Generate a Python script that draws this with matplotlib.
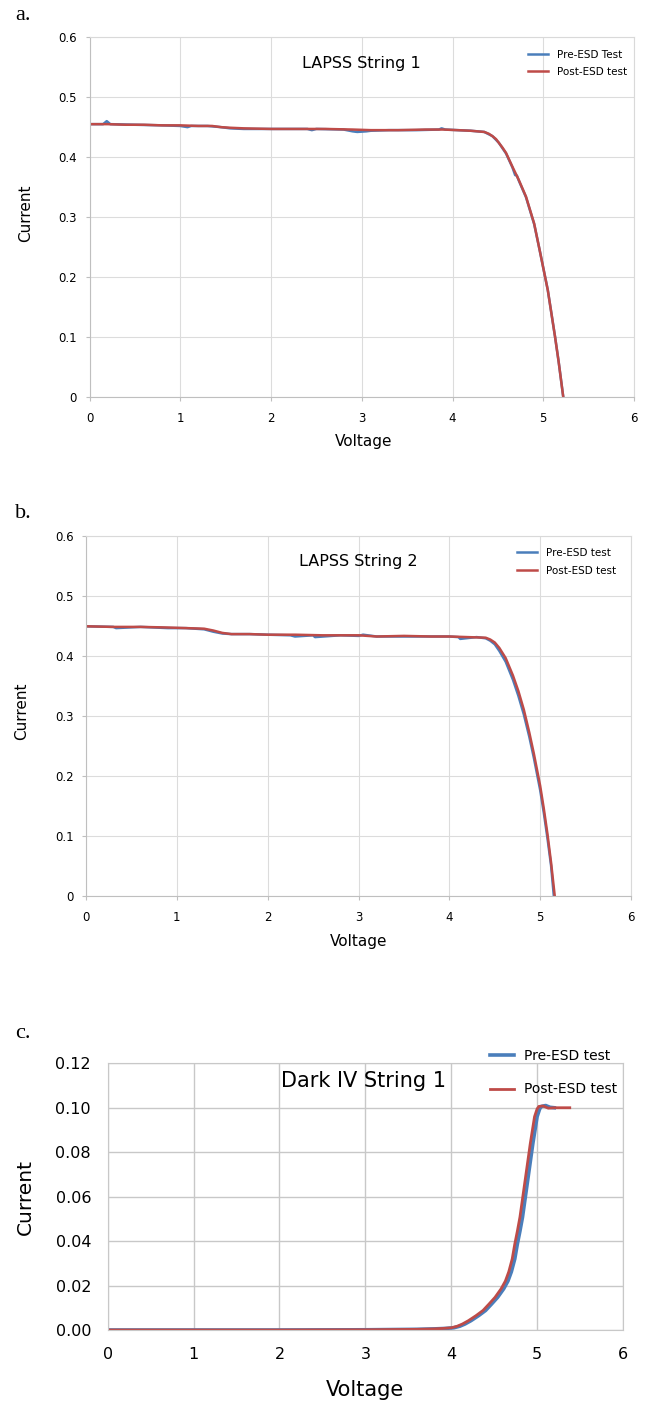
import matplotlib
matplotlib.use("Agg")
import matplotlib.pyplot as plt

plt.rcParams['font.family'] = ['DejaVu Sans']

# --- panel a: LAPSS String 1 ---
a_pre_v = [0, 0.15, 0.19, 0.23, 0.5, 0.8, 1.0, 1.08, 1.12, 1.3, 1.45, 1.55, 1.7, 2.0, 2.4, 2.45,
           2.5, 2.8, 2.9, 2.95, 3.05, 3.1, 3.3, 3.6, 3.85, 3.88, 3.92, 4.2, 4.35, 4.44, 4.51,
           4.59, 4.66, 4.69, 4.71, 4.73, 4.81, 4.9, 4.96, 5.05, 5.13, 5.17, 5.22]
a_pre_i = [0.455, 0.455, 0.460, 0.455, 0.454, 0.453, 0.452, 0.450, 0.452, 0.452, 0.450, 0.448,
           0.447, 0.447, 0.447, 0.445, 0.447, 0.446, 0.443, 0.442, 0.443, 0.444, 0.445, 0.445,
           0.446, 0.448, 0.446, 0.444, 0.442, 0.435, 0.424, 0.406, 0.383, 0.370, 0.369, 0.361,
           0.333, 0.288, 0.245, 0.178, 0.100, 0.058, 0.0]
a_post_v = [0, 0.2, 0.4, 0.6, 0.8, 1.0, 1.2, 1.35, 1.45, 1.55, 1.7, 2.0, 2.3, 2.6, 2.9, 3.1, 3.4,
            3.7, 3.9, 4.2, 4.35, 4.4, 4.44, 4.48, 4.51, 4.55, 4.59, 4.66, 4.73, 4.81, 4.9, 4.96,
            5.05, 5.13, 5.17, 5.22]
a_post_i = [0.455, 0.455, 0.454, 0.454, 0.453, 0.453, 0.452, 0.452, 0.450, 0.449, 0.448, 0.447,
            0.447, 0.447, 0.446, 0.445, 0.445, 0.446, 0.446, 0.444, 0.442, 0.439, 0.435, 0.430,
            0.424, 0.416, 0.407, 0.384, 0.362, 0.334, 0.289, 0.245, 0.178, 0.100, 0.058, 0.0]

# --- panel b: LAPSS String 2 ---
b_pre_v = [0, 0.3, 0.33, 0.6, 0.9, 1.1, 1.3, 1.4, 1.5, 1.6, 1.8, 2.0, 2.25, 2.3, 2.5, 2.52, 2.8,
           3.0, 3.05, 3.2, 3.5, 3.8, 4.0, 4.1, 4.12, 4.3, 4.4, 4.45, 4.5, 4.55, 4.62, 4.7, 4.76,
           4.82, 4.88, 4.93, 5.0, 5.04, 5.08, 5.12, 5.15]
b_pre_i = [0.449, 0.448, 0.446, 0.448, 0.446, 0.446, 0.444, 0.440, 0.437, 0.436, 0.436, 0.435,
           0.434, 0.432, 0.434, 0.431, 0.434, 0.433, 0.435, 0.432, 0.432, 0.432, 0.432, 0.431,
           0.428, 0.431, 0.429, 0.425, 0.419, 0.408, 0.390, 0.360, 0.333, 0.302, 0.265, 0.230,
           0.176, 0.138, 0.096, 0.050, 0.0]
b_post_v = [0, 0.3, 0.6, 0.9, 1.1, 1.3, 1.4, 1.5, 1.6, 1.8, 2.0, 2.3, 2.6, 3.0, 3.2, 3.5, 3.8,
            4.0, 4.2, 4.4, 4.45, 4.5, 4.55, 4.62, 4.7, 4.76, 4.82, 4.88, 4.93, 5.0, 5.04, 5.08,
            5.12, 5.16]
b_post_i = [0.449, 0.448, 0.448, 0.447, 0.446, 0.445, 0.442, 0.438, 0.436, 0.436, 0.435, 0.435,
            0.434, 0.434, 0.432, 0.433, 0.432, 0.432, 0.431, 0.430, 0.427, 0.422, 0.413, 0.396,
            0.367, 0.341, 0.310, 0.272, 0.237, 0.183, 0.145, 0.103, 0.055, 0.0]

# --- panel c: Dark IV String 1 ---
c_pre_v = [0, 1, 2, 3, 3.3, 3.6, 3.8, 3.93, 4.03, 4.1, 4.16, 4.23, 4.32, 4.4, 4.47, 4.54, 4.61,
           4.66, 4.7, 4.74, 4.77, 4.8, 4.83, 4.89, 4.95, 5.0, 5.03, 5.05, 5.1, 5.15, 5.2]
c_pre_i = [0, 0, 0, 0.0001, 0.0002, 0.0003, 0.0005, 0.0007, 0.0010, 0.0017, 0.0027, 0.0042,
           0.0065, 0.0088, 0.0117, 0.0147, 0.0185, 0.0220, 0.0262, 0.0320, 0.0387, 0.0445,
           0.0508, 0.0673, 0.0838, 0.096, 0.0995, 0.1006, 0.101, 0.1002, 0.1]
c_post_v = [0, 1, 2, 3, 3.3, 3.6, 3.8, 3.9, 4.0, 4.07, 4.13, 4.2, 4.29, 4.37, 4.44, 4.51, 4.58,
            4.63, 4.67, 4.71, 4.74, 4.77, 4.8, 4.86, 4.92, 4.97, 5.0, 5.02, 5.07, 5.13, 5.2, 5.38]
c_post_i = [0, 0, 0, 0.0001, 0.0002, 0.0003, 0.0005, 0.0007, 0.0010, 0.0017, 0.0027, 0.0042,
            0.0065, 0.0088, 0.0117, 0.0147, 0.0185, 0.0220, 0.0262, 0.0320, 0.0387, 0.0445,
            0.0508, 0.0673, 0.0838, 0.096, 0.0995, 0.1006, 0.1008, 0.0998, 0.1, 0.1]

BLUE = '#4a7ebb'
RED = '#be4b48'
W, H = 649, 1404


def box(l, t, r, b):
    return [l / W, 1 - b / H, (r - l) / W, (b - t) / H]


fig = plt.figure(figsize=(6.49, 14.04), dpi=100)

panels = [
    dict(pos=box(89.5, 37.3, 634, 396.7), pre=(a_pre_v, a_pre_i), post=(a_post_v, a_post_i),
         labels=('Pre-ESD Test', 'Post-ESD test'), title='LAPSS String 1', letter='a.', ly=15,
         ylab=(-0.117, 0.511), xlab=(0.504, -0.126), leg=(523, 44.4), ls=0.7),
    dict(pos=box(86.1, 535.7, 631, 895.7), pre=(b_pre_v, b_pre_i), post=(b_post_v, b_post_i),
         labels=('Pre-ESD test', 'Post-ESD test'), title='LAPSS String 2', letter='b.', ly=513,
         ylab=(-0.118, 0.511), xlab=(0.5, -0.126), leg=(512, 542.4), ls=0.8),
]
ab_ticks = [0, 0.1, 0.2, 0.3, 0.4, 0.5, 0.6]

for p in panels:
    ax = fig.add_axes(p['pos'])
    ax.plot(*p['pre'], color=BLUE, lw=1.8, label=p['labels'][0])
    ax.plot(*p['post'], color=RED, lw=1.8, label=p['labels'][1])
    ax.set_xlim(0, 6)
    ax.set_ylim(0, 0.6)
    ax.set_xticks(range(7))
    ax.set_yticks(ab_ticks)
    ax.set_yticklabels(['{:g}'.format(t) for t in ab_ticks])
    ax.grid(True, color='#dcdcdc', lw=0.8)
    ax.set_axisbelow(True)
    for s in ax.spines.values():
        s.set_color('#d9d9d9')
    ax.spines['left'].set_color('#bfbfbf')
    ax.spines['bottom'].set_color('#bfbfbf')
    ax.tick_params(labelsize=8.5, length=3, color='#bfbfbf', pad=6)
    ax.tick_params(axis='x', pad=8)
    ax.set_xlabel('Voltage', fontsize=11, va='center')
    ax.set_ylabel('Current', fontsize=11, va='center')
    ax.xaxis.set_label_coords(*p['xlab'])
    ax.yaxis.set_label_coords(*p['ylab'])
    ax.text(3.0, 0.557, p['title'], fontsize=11.5, ha='center', va='center')
    ax.legend(loc='upper left', bbox_to_anchor=(p['leg'][0] / W, 1 - p['leg'][1] / H),
              bbox_transform=fig.transFigure, frameon=False, fontsize=7.5,
              handlelength=1.9, handletextpad=0.85, borderpad=0, labelspacing=p['ls'])
    fig.text(15 / W, 1 - p['ly'] / H, p['letter'], fontsize=16, family='Liberation Serif',
             va='center', ha='left')

# panel c
ax = fig.add_axes(box(107.7, 1063.3, 623, 1330))
ax.plot(c_pre_v, c_pre_i, color=BLUE, lw=2.6, label='Pre-ESD test')
ax.plot(c_post_v, c_post_i, color=RED, lw=2.0, label='Post-ESD test')
ax.set_xlim(0, 6)
ax.set_ylim(0, 0.12)
ax.set_xticks(range(7))
c_ticks = [0, 0.02, 0.04, 0.06, 0.08, 0.10, 0.12]
ax.set_yticks(c_ticks)
ax.set_yticklabels(['{:.2f}'.format(t) for t in c_ticks])
ax.grid(True, color='#c8c8c8', lw=1.0)
ax.set_axisbelow(True)
for s in ax.spines.values():
    s.set_color('#c8c8c8')
ax.tick_params(labelsize=11.5, length=0, pad=12)
ax.set_xlabel('Voltage', fontsize=15, va='center')
ax.set_ylabel('Current', fontsize=14.5, va='center')
ax.xaxis.set_label_coords(0.5, -0.225)
ax.yaxis.set_label_coords(-0.159, 0.5)
ax.text(2.98, 0.112, 'Dark IV String 1', fontsize=15, ha='center', va='center')
ax.legend(loc='upper left', bbox_to_anchor=(483 / W, 1 - 1042 / H),
          bbox_transform=fig.transFigure, frameon=False, fontsize=10,
          handlelength=1.73, handletextpad=0.72, borderpad=0, labelspacing=1.4)
fig.text(15 / W, 1 - 1033 / H, 'c.', fontsize=16, family='Liberation Serif',
         va='center', ha='left')

fig.savefig('out.png', dpi=100)
